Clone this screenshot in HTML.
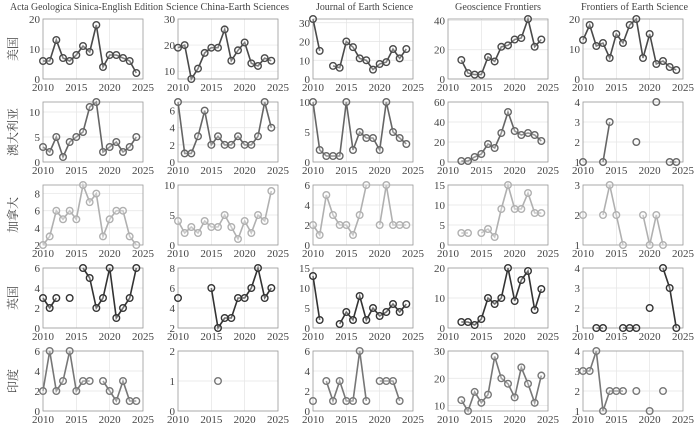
<!DOCTYPE html>
<html><head><meta charset="utf-8"><style>
body{margin:0;background:#fff;}
svg text{font-family:"Liberation Serif","Noto Serif CJK SC",serif;fill:#444;}
</style></head><body>
<svg id="s" width="700" height="434" xmlns="http://www.w3.org/2000/svg"></svg>
<script>
const N=null;
const cols=[43,178,313,448,583], rows=[19,102,185,268,351], W=100, H=60;
const titles=[["Acta Geologica Sinica-English Edition",10,153],["Science China-Earth Sciences",166,123],["Journal of Earth Science",316,97],["Geoscience Frontiers",455,86],["Frontiers of Earth Science",581,107]];
const rlab=["美国","澳大利亚","加拿大","英国","印度"];
const colors=["#4a4a4a","#666","#b0b0b0","#333","#777"];
const P=[
[[0,20,[0,10,20],[6,6,13,7,6,8,11,9,18,4,8,8,7,6,2]],
 [7,30,[10,20,30],[19,20,7,11,17,19,19,26,14,18,21,13,12,15,14]],
 [0,32,[0,10,20,30],[32,15,N,7,6,20,17,11,10,5,8,9,16,11,16]],
 [0,41,[0,20,40],[N,N,13,4,3,3,15,12,22,23,27,28,41,22,27]],
 [0,20,[0,10,20],[13,18,11,12,7,15,12,18,20,7,15,5,6,4,3]]],
[[0,12,[0,5,10],[3,2,5,1,4,5,6,11,12,2,3,4,2,3,5]],
 [0,7,[0,2,4,6],[7,1,1,3,6,2,3,2,2,3,2,2,3,7,4]],
 [0,10,[0,5,10],[10,2,1,1,1,10,2,5,4,4,2,10,5,4,3]],
 [0,60,[0,20,40,60],[N,N,1,1,5,8,18,14,29,50,31,27,29,27,21]],
 [1,4,[1,2,3,4],[1,N,N,1,3,N,N,N,2,N,N,4,N,1,1]]],
[[2,9,[2,4,6,8],[2,3,6,5,6,5,9,7,8,3,5,6,6,3,2]],
 [0,10,[0,5,10],[4,2,3,2,4,3,3,5,3,1,4,2,5,4,9]],
 [0,6,[0,2,4,6],[2,1,5,3,2,2,1,3,6,N,2,6,2,2,2]],
 [0,15,[0,5,10,15],[N,N,3,3,N,3,4,2,9,15,9,9,13,8,8]],
 [1,3,[1,2,3],[2,N,N,2,3,2,1,N,N,2,1,2,1,N,N]]],
[[0,6,[0,2,4,6],[3,2,3,N,3,N,6,5,2,3,6,1,2,3,6]],
 [2,8,[2,4,6,8],[5,N,N,N,N,6,2,3,3,5,5,6,8,5,6]],
 [0,15,[0,5,10,15],[13,2,N,N,1,4,2,8,2,5,3,4,6,4,6]],
 [0,20,[0,10,20],[N,N,2,2,1,3,10,8,10,20,9,16,19,6,13]],
 [1,4,[1,2,3,4],[N,N,1,1,N,N,1,1,1,N,2,N,4,3,1]]],
[[0,6,[0,2,4,6],[2,6,2,3,6,2,3,3,N,3,2,1,3,1,1]],
 [0,2,[0,1,2],[N,N,N,N,N,N,1,N,N,N,N,N,N,N,N]],
 [0,6,[0,2,4,6],[1,N,3,1,3,1,1,6,1,N,3,3,3,1,N]],
 [8,30,[10,20,30],[N,N,12,8,15,11,14,28,20,18,13,24,18,11,21]],
 [1,4,[1,2,3,4],[3,3,4,1,2,2,2,N,2,N,1,N,2,N,N]]]
];
let h="";
titles.forEach(([t,x,l])=>{h+=`<text x="${x}" y="10" font-size="10" textLength="${l}" lengthAdjust="spacingAndGlyphs">${t}</text>`;});
rlab.forEach((t,r)=>{const cy=rows[r]+30;h+=`<text x="0" y="0" font-size="12" text-anchor="middle" transform="translate(17,${cy}) rotate(-90)">${t}</text>`;});
for(let r=0;r<5;r++)for(let c=0;c<5;c++){
 const [y0,y1,ticks,d]=P[r][c];const X=cols[c],Y=rows[r];
 const sx=yr=>X+(yr-2010)/15*W, sy=v=>Y+H-(v-y0)/(y1-y0)*H;
 [2015,2020].forEach(yr=>h+=`<line x1="${sx(yr)}" x2="${sx(yr)}" y1="${Y}" y2="${Y+H}" stroke="#e4e4e4" stroke-width="0.7"/>`);
 ticks.forEach(t=>{h+=`<line x1="${X}" x2="${X+W}" y1="${sy(t)}" y2="${sy(t)}" stroke="#e4e4e4" stroke-width="0.7"/>`;
  h+=`<text x="${X-3}" y="${sy(t)+4}" font-size="11" text-anchor="end">${t}</text>`;});
 [2010,2015,2020,2025].forEach(yr=>h+=`<text x="${sx(yr)}" y="${Y+H+12}" font-size="11" text-anchor="middle">${yr}</text>`);
 h+=`<rect x="${X}" y="${Y}" width="${W}" height="${H}" fill="none" stroke="#999" stroke-width="0.8"/>`;
 const col=colors[r];let path="";
 for(let i=0;i<d.length;i++){if(d[i]===N)continue;const px=sx(2010+i),py=sy(d[i]);
  path+=(i>0&&d[i-1]!==N?"L":"M")+px.toFixed(1)+","+py.toFixed(1);}
 h+=`<path d="${path}" fill="none" stroke="${col}" stroke-width="1.6"/>`;
 for(let i=0;i<d.length;i++){if(d[i]===N)continue;h+=`<circle cx="${sx(2010+i)}" cy="${sy(d[i])}" r="3.3" fill="#fff" fill-opacity="0.3" stroke="${col}" stroke-width="1.4"/>`;}
}
document.getElementById("s").innerHTML=h;
</script>
</body></html>
